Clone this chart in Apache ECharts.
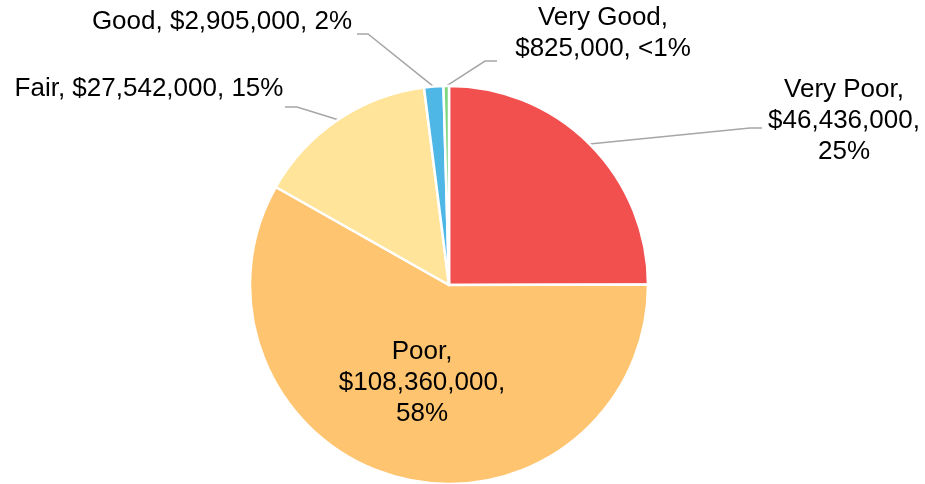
<!DOCTYPE html>
<html>
<head>
<meta charset="utf-8">
<script src="https://cdn.jsdelivr.net/npm/echarts@6/dist/echarts.min.js"></script>
<style>html,body{margin:0;padding:0;background:#fff;}#c{width:925px;height:484px;}</style>
</head>
<body>
<div id="c"></div>
<script>
// ---- data ----
var categories = ['Very Poor', 'Poor', 'Fair', 'Good', 'Very Good'];
var values = [46436000, 108360000, 27542000, 2905000, 825000];
var colors = ['#F24F4F', '#FFC46F', '#FFE49A', '#4EB7E6', '#7ED67E'];

// ---- label styling / placement (presentation only) ----
var labelTemplates = [
  '{n},\n{v},\n{p}',
  '{n},\n{v},\n{p}',
  '{n}, {v}, {p}',
  '{n}, {v}, {p}',
  '{n},\n{v}, {p}'
];
var labelPlacement = [
  { x: 844, y: 121, elbow: [750, 128], end: [762, 128] },
  { x: 422, y: 383 },
  { x: 149, y: 89, elbow: [297, 107], end: [285, 107] },
  { x: 222, y: 22, elbow: [368, 34], end: [357, 34] },
  { x: 603, y: 33, elbow: [485, 61], end: [497, 61] }
];

var total = values.reduce(function (a, b) { return a + b; }, 0);
function fmtMoney(v) { return '$' + v.toString().replace(/\B(?=(\d{3})+(?!\d))/g, ','); }
function fmtPct(v) {
  var p = v / total * 100;
  return p < 1 ? '<1%' : Math.round(p) + '%';
}

var data = categories.map(function (c, i) {
  var item = { name: c, value: values[i], itemStyle: { color: colors[i] } };
  if (i === 1) {
    item.label = { position: 'inside' };
    item.labelLine = { show: false };
  }
  return item;
});

var chart = echarts.init(document.getElementById('c'), null, { renderer: 'canvas' });
chart.setOption({
  backgroundColor: '#ffffff',
  animation: false,
  series: [{
    type: 'pie',
    center: [449, 285],
    radius: 199,
    startAngle: 90,
    clockwise: true,
    avoidLabelOverlap: false,
    itemStyle: { borderColor: '#ffffff', borderWidth: 2.5 },
    label: {
      show: true,
      position: 'outside',
      fontFamily: 'Liberation Sans, Arial, sans-serif',
      fontSize: 26,
      lineHeight: 31,
      color: '#000000',
      align: 'center',
      formatter: function (p) {
        return labelTemplates[p.dataIndex]
          .replace('{n}', p.name)
          .replace('{v}', fmtMoney(p.value))
          .replace('{p}', fmtPct(p.value));
      }
    },
    labelLine: {
      show: true,
      length: 20,
      length2: 10,
      lineStyle: { color: '#A6A6A6', width: 1.5 }
    },
    labelLayout: function (params) {
      var pl = labelPlacement[params.dataIndex];
      var res = { x: pl.x, y: pl.y, align: 'center', verticalAlign: 'middle' };
      if (pl.elbow && params.labelLinePoints) {
        var start = params.labelLinePoints[0];
        res.labelLinePoints = [start, pl.elbow, pl.end];
      }
      return res;
    },
    emphasis: { disabled: true },
    data: data
  }]
});
</script>
</body>
</html>
